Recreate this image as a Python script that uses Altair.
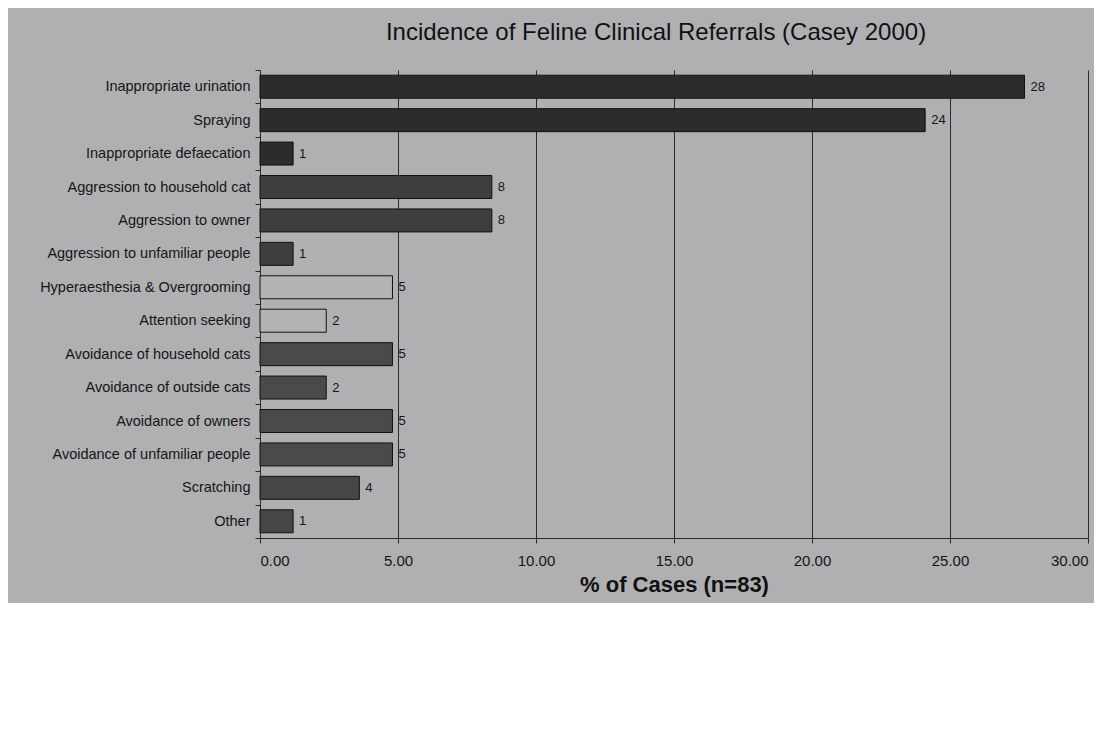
import altair as alt
import pandas as pd

categories = [
    "Inappropriate urination",
    "Spraying",
    "Inappropriate defaecation",
    "Aggression to household cat",
    "Aggression to owner",
    "Aggression to unfamiliar people",
    "Hyperaesthesia & Overgrooming",
    "Attention seeking",
    "Avoidance of household cats",
    "Avoidance of outside cats",
    "Avoidance of owners",
    "Avoidance of unfamiliar people",
    "Scratching",
    "Other",
]
percent = [27.7, 24.1, 1.2, 8.4, 8.4, 1.2, 4.8, 2.4, 4.8, 2.4, 4.8, 4.8, 3.6, 1.2]
value_labels = ["28", "24", "1", "8", "8", "1", "5", "2", "5", "2", "5", "5", "4", "1"]
groups = [
    "Elimination", "Elimination", "Elimination",
    "Aggression", "Aggression", "Aggression",
    "Self", "Self",
    "Avoidance", "Avoidance", "Avoidance", "Avoidance",
    "Misc", "Misc",
]
x_ticks = [0, 5, 10, 15, 20, 25, 30]

df = pd.DataFrame({"category": categories, "pct": percent,
                   "label": value_labels, "group": groups})

FONT = "Liberation Sans"

base = alt.Chart(df)

bars = base.mark_bar(stroke="#111111", strokeWidth=1, size=23).encode(
    x=alt.X("pct:Q",
            scale=alt.Scale(domain=[0, 30], nice=False, zero=True),
            axis=alt.Axis(values=x_ticks, format=".2f", title="% of Cases (n=83)",
                          grid=True, gridColor="#2a2a2a", gridWidth=1,
                          domainColor="#2a2a2a", tickColor="#2a2a2a", tickSize=5,
                          labelFont=FONT, labelFontSize=15, labelColor="#151515",
                          labelPadding=10,
                          titleFont=FONT, titleFontSize=22, titleFontWeight="bold",
                          titleColor="#101010", titlePadding=6)),
    y=alt.Y("category:N", sort=categories,
            scale=alt.Scale(paddingInner=0, paddingOuter=0),
            axis=alt.Axis(title=None, tickBand="extent", tickSize=5,
                          tickColor="#2a2a2a", domainColor="#2a2a2a",
                          labelFont=FONT, labelFontSize=14.5, labelColor="#151515",
                          labelPadding=5, labelLimit=320)),
    color=alt.Color("group:N",
                    scale=alt.Scale(domain=["Elimination", "Aggression", "Self", "Avoidance", "Misc"],
                                    range=["#2c2c2c", "#3e3e3e", "#b4b4b4", "#4a4a4a", "#464646"]),
                    legend=None),
)

text = base.mark_text(align="left", baseline="middle", dx=6, fontSize=13,
                      font=FONT, color="#151515").encode(
    x="pct:Q",
    y=alt.Y("category:N", sort=categories),
    text="label:N",
)

chart = (bars + text).properties(
    width=828,
    height=468,
    title=alt.TitleParams("Incidence of Feline Clinical Referrals (Casey 2000)",
                          font=FONT, fontSize=24, fontWeight="normal",
                          color="#111111", offset=17, dx=-18),
    autosize=alt.AutoSizeParams(type="none"),
    padding={"left": 252, "top": 62, "right": 6, "bottom": 65},
).configure(background="#b0b0b2").configure_view(stroke=None)

chart.save("out.html", embed_options={"renderer": "svg", "actions": False})
